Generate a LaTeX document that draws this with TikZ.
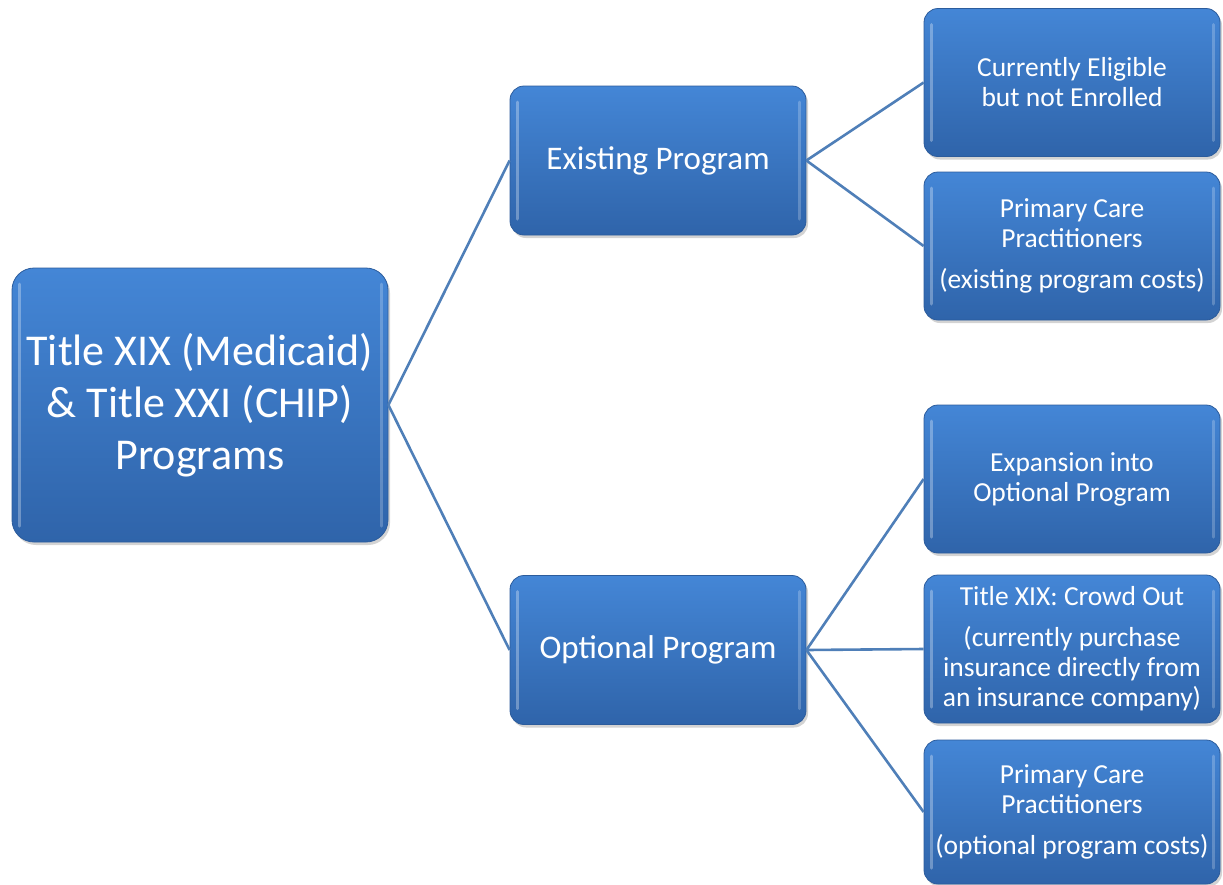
\documentclass[tikz,border=0pt]{standalone}
\usepackage{fontspec}
\setmainfont{Carlito}
\usetikzlibrary{shadows}
\definecolor{boxtop}{HTML}{4486D6}
\definecolor{boxbot}{HTML}{2F64AA}
\definecolor{boxedge}{HTML}{2C5C9C}
\definecolor{linkc}{HTML}{4F7FB8}
\tikzset{
  box/.style={rectangle, rounded corners=12pt, draw=boxedge, line width=0.8pt,
    top color=boxtop, bottom color=boxbot, text=white, align=center,
    inner sep=0pt,
    drop shadow={opacity=0.35, shadow xshift=2pt, shadow yshift=-3pt},
    path picture={
      \draw[white, opacity=0.3, line width=3pt, line cap=round]
        ([xshift=7pt,yshift=16pt]path picture bounding box.south west) --
        ([xshift=7pt,yshift=-16pt]path picture bounding box.north west);
      \draw[white, opacity=0.22, line width=3pt, line cap=round]
        ([xshift=-7pt,yshift=16pt]path picture bounding box.south east) --
        ([xshift=-7pt,yshift=-16pt]path picture bounding box.north east);
    }},
  bigbox/.style={box, minimum width=376pt, minimum height=274pt, rounded corners=22pt,
    font=\fontsize{44}{52}\selectfont},
  midbox/.style={box, minimum width=296pt, minimum height=149pt, rounded corners=14pt,
    font=\fontsize{33}{36}\selectfont},
  leafbox/.style={box, minimum width=296pt, minimum height=148pt, rounded corners=14pt,
    font=\fontsize{27.5}{30}\selectfont},
  link/.style={draw=linkc, line width=2.6pt}
}
\begin{document}
\begin{tikzpicture}[x=1pt,y=-1pt]
\useasboundingbox (0,0) rectangle (1223,884);
\node[bigbox] (root) at (200,405) {Title XIX (Medicaid)\\ \& Title XXI (CHIP)\\ Programs};
\node[midbox] (ex) at (658,160.5) {Existing Program};
\node[midbox] (op) at (658,650) {Optional Program};
\node[leafbox] (ce) at (1072,82.5) {Currently Eligible\\ but not Enrolled};
\node[leafbox] (pe) at (1072,246) {Primary Care\\ Practitioners\\[11pt] (existing program costs)};
\node[leafbox] (xp) at (1072,479) {Expansion into\\ Optional Program};
\node[leafbox] (co) at (1072,649) {Title XIX: Crowd Out\\[11pt] (currently purchase\\ insurance directly from\\ an insurance company)};
\node[leafbox, minimum height=144pt] (po) at (1072,812) {Primary Care\\ Practitioners\\[11pt] (optional program costs)};
\draw[link] (root.east) -- (ex.west);
\draw[link] (root.east) -- (op.west);
\draw[link] (ex.east) -- (ce.west);
\draw[link] (ex.east) -- (pe.west);
\draw[link] (op.east) -- (xp.west);
\draw[link] (op.east) -- (co.west);
\draw[link] (op.east) -- (po.west);
\end{tikzpicture}
\end{document}
